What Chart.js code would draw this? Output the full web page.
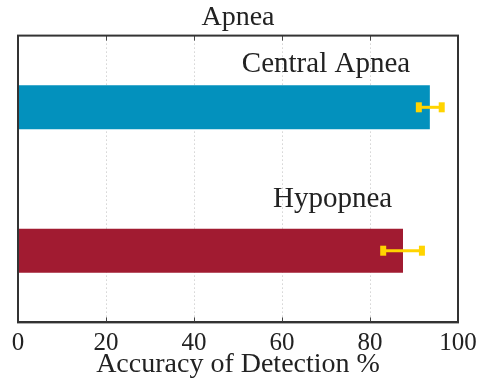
<!DOCTYPE html>
<html>
<head>
<meta charset="utf-8">
<script src="https://cdn.jsdelivr.net/npm/chart.js@4"></script>
<style>
  html, body { margin: 0; padding: 0; background: #fff; }
  #wrap { width: 485px; height: 378px; }
</style>
</head>
<body>
<div id="wrap"><canvas id="chart" width="485" height="378"></canvas></div>
<script>
// ─── Data ────────────────────────────────────────────────────────────
const categories = ['Central Apnea', 'Hypopnea'];
const accuracy   = [93.6, 87.5];
const errLow     = [91.1, 83.0];
const errHigh    = [96.3, 91.8];
const barColors  = ['#0391bd', '#a11b31'];
const xTicks     = [0, 20, 40, 60, 80, 100];

// label anchors (value on x axis, pixel offset above category centre)
const labelX      = [70.0, 71.5];
const labelOffset = [35, 44];

const FONT = "'Liberation Serif', 'DejaVu Serif', serif";
const INK = '#222';

// ─── Plugin: box ticks, bar labels, error bars ───────────────────────
const decorations = {
    id: 'decorations',
    beforeDatasetsDraw(chart) {
        const { ctx, chartArea: a, scales: { x } } = chart;
        ctx.save();
        ctx.strokeStyle = '#444';
        ctx.lineWidth = 1;
        xTicks.forEach(v => {
            if (v === 0 || v === 100) return;
            const px = Math.round(x.getPixelForValue(v)) + 0.5;
            ctx.beginPath();
            ctx.moveTo(px, a.top); ctx.lineTo(px, a.top + 5);
            ctx.moveTo(px, a.bottom); ctx.lineTo(px, a.bottom - 5);
            ctx.stroke();
        });
        ctx.restore();
    },
    afterDatasetsDraw(chart) {
        const { ctx, scales: { x, y } } = chart;
        ctx.save();

        // category labels above bars
        ctx.font = '29px ' + FONT;
        ctx.fillStyle = INK;
        ctx.textAlign = 'center';
        ctx.textBaseline = 'alphabetic';
        categories.forEach((c, i) => {
            ctx.fillText(c, x.getPixelForValue(labelX[i]), y.getPixelForValue(i) - labelOffset[i]);
        });

        // error bars
        ctx.strokeStyle = '#ffd400';
        ctx.fillStyle = '#ffd400';
        ctx.lineWidth = 3;
        categories.forEach((c, i) => {
            const cy = y.getPixelForValue(i);
            const x0 = x.getPixelForValue(errLow[i]);
            const x1 = x.getPixelForValue(errHigh[i]);
            ctx.beginPath();
            ctx.moveTo(x0, cy); ctx.lineTo(x1, cy);
            ctx.stroke();
            ctx.fillRect(x0 - 3, cy - 5, 6, 10);
            ctx.fillRect(x1 - 3, cy - 5, 6, 10);
        });
        ctx.restore();
    }
};

// ─── Chart ───────────────────────────────────────────────────────────
new Chart(document.getElementById('chart'), {
    type: 'bar',
    data: {
        labels: categories,
        datasets: [{
            data: accuracy,
            backgroundColor: barColors,
            borderWidth: 0,
            barPercentage: 0.306,
            categoryPercentage: 1
        }]
    },
    options: {
        indexAxis: 'y',
        responsive: false,
        animation: false,
        layout: { padding: { left: 18, right: 27, top: 0, bottom: 0 } },
        plugins: {
            legend: { display: false },
            tooltip: { enabled: false },
            title: {
                display: true,
                text: 'Apnea',
                color: INK,
                font: { family: FONT, size: 28, weight: 'normal' },
                padding: { top: 1, bottom: 1 }
            }
        },
        scales: {
            x: {
                min: 0,
                max: 100,
                afterBuildTicks: s => { s.ticks = xTicks.map(v => ({ value: v })); },
                ticks: {
                    color: INK,
                    font: { family: FONT, size: 25 },
                    padding: 6,
                    maxRotation: 0
                },
                grid: {
                    color: ctx => (ctx.tick && (ctx.tick.value === 0 || ctx.tick.value === 100)) ? 'rgba(0,0,0,0)' : '#bdbdbd',
                    lineWidth: 1,
                    drawTicks: false
                },
                border: { display: true, color: '#333', width: 2, dash: [1, 3] },
                title: {
                    display: true,
                    text: 'Accuracy of Detection %',
                    color: INK,
                    font: { family: FONT, size: 28 },
                    padding: { top: -17, bottom: -3 }
                }
            },
            y: {
                offset: true,
                ticks: { display: false },
                grid: { display: false, drawTicks: false },
                border: { display: false }
            }
        }
    },
    plugins: [decorations, {
        id: 'frame',
        afterDraw(chart) {
            const { ctx, chartArea: a } = chart;
            ctx.save();
            ctx.strokeStyle = '#333';
            ctx.lineWidth = 2;
            ctx.setLineDash([]);
            ctx.strokeRect(a.left, a.top, a.right - a.left, a.bottom - a.top);
            ctx.restore();
        }
    }]
});
</script>
</body>
</html>
